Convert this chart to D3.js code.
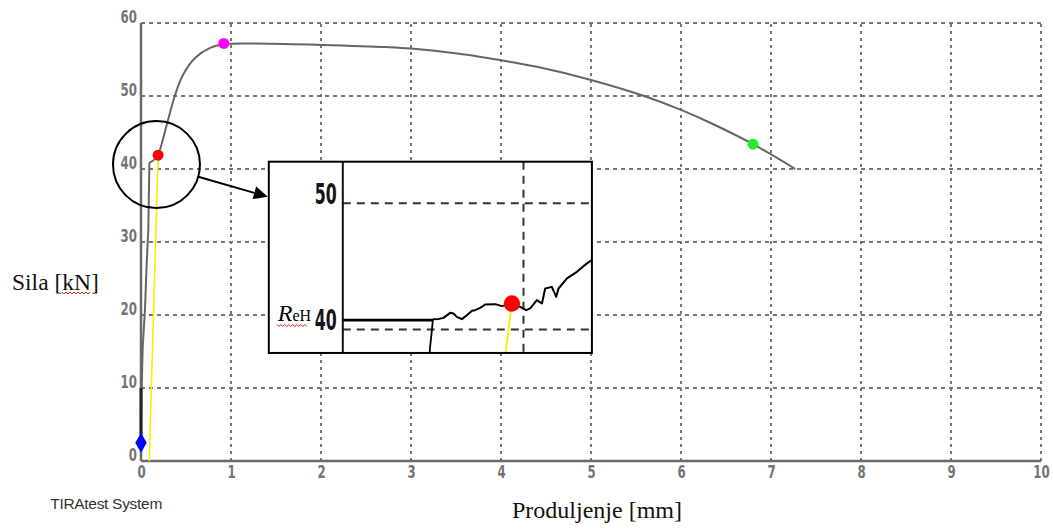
<!DOCTYPE html>
<html>
<head>
<meta charset="utf-8">
<script src="https://cdn.jsdelivr.net/npm/d3@7"></script>
<style>
  html, body { margin: 0; padding: 0; background: #fff; }
  svg { display: block; }
</style>
</head>
<body>
<svg id="chart" width="1053" height="529"></svg>
<script>
// ---------------- data ----------------
const xTickValues = [0, 1, 2, 3, 4, 5, 6, 7, 8, 9, 10];
const yTickValues = [0, 10, 20, 30, 40, 50, 60];

// main force–elongation curve (mm, kN)
const curveX = [0, 0.004, 0.008, 0.019, 0.044, 0.063, 0.081, 0.093, 0.10, 0.14, 0.19, 0.233, 0.30, 0.378, 0.467, 0.60, 0.767, 0.92, 1.27, 2.0, 2.73, 3.0, 3.6, 4.0, 4.4, 5.0, 5.59, 6.0, 6.33, 6.8, 7.27];
const curveY = [2.5, 10, 10, 15.6, 20.7, 27, 31.6, 40.8, 40.9, 41.2, 41.9, 43.6, 46.7, 50.1, 52.9, 55.2, 56.6, 57.1, 57.2, 57.0, 56.7, 56.5, 55.7, 54.9, 54.0, 52.2, 50.0, 48.1, 46.3, 43.4, 40.0];

// initial (black) segment along the axis
const startX = [0, 0];
const startY = [2.5, 10];

// yellow line
const yellowX = [0.092, 0.19];
const yellowY = [0, 41.9];

// markers
const markerX = [0, 0.19, 0.92, 6.8];
const markerY = [2.5, 41.9, 57.2, 43.4];
const markerColor = ["#0000ff", "#ff0000", "#ff00ff", "#22ee22"];
const markerShape = ["diamond", "octagon", "octagon", "octagon"];

// annotation circle (data coords of centre)
const circleCenter = [0.172, 40.6];
const arrowTipY = 36.2;

// inset frame in main data coordinates
const insetFrameX = [1.42, 5.01];
const insetFrameY = [14.8, 41.0];

// inset (zoom of the upper-yield region)
const insetXDomain = [0, 0.2757];
const insetYDomain = [38.14, 53.3];
const insetTicks = [40, 50];
const insetVLine = [0.2];
const insetCurveX = [0.0997, 0.1060, 0.1114, 0.1188, 0.1225, 0.1262, 0.1318, 0.1373, 0.1429, 0.1465, 0.1520, 0.1576, 0.1687, 0.1761, 0.1872, 0.1963, 0.2030, 0.2074, 0.2148, 0.2204, 0.2240, 0.2314, 0.2362, 0.2388, 0.2481, 0.2591, 0.2702, 0.2757];
const insetCurveY = [40.82, 40.84, 40.92, 41.32, 41.27, 41.0, 40.82, 41.13, 41.48, 41.53, 41.71, 41.98, 42.01, 41.85, 42.06, 41.79, 41.53, 41.67, 42.33, 42.06, 43.25, 43.38, 42.59, 43.25, 44.05, 44.57, 45.24, 45.5];
const insetElasticX = [0.0959, 0.0966, 0.0978, 0.0990, 0.0997];
const insetElasticY = [37.9, 38.6, 39.4, 40.2, 40.82];
const insetReHX = [0, 0.0997];
const insetReHY = [40.74, 40.74];
const insetYellowX = [0.1797, 0.1872];
const insetYellowY = [37.9, 42.06];
const insetMarker = [0.1872, 42.06];

// texts
const yTitle = "Sila [kN]";
const xTitle = "Produljenje [mm]";
const footer = "TIRAtest System";

// ---------------- drawing ----------------
const svg = d3.select("#chart");
const x = d3.scaleLinear().domain([0, 10]).range([141, 1041]);
const y = d3.scaleLinear().domain([0, 60]).range([461, 23]);

const tickFont = "'DejaVu Sans Condensed', 'Liberation Sans Narrow', 'Arial Narrow', sans-serif";
const gridColor = "#777";

// grid
const grid = svg.append("g");
grid.selectAll("line.h").data(yTickValues.filter(d => d > 0)).join("line")
  .attr("x1", x(0)).attr("x2", x(10))
  .attr("y1", d => y(d)).attr("y2", d => y(d))
  .attr("stroke", gridColor).attr("stroke-width", 2).attr("stroke-dasharray", "4,4");
grid.selectAll("line.v").data(xTickValues.filter(d => d > 0)).join("line")
  .attr("x1", d => x(d)).attr("x2", d => x(d))
  .attr("y1", y(0)).attr("y2", y(60))
  .attr("stroke", gridColor).attr("stroke-width", 2).attr("stroke-dasharray", "3,4");

// axes (solid)
svg.append("line").attr("x1", x(0)).attr("x2", x(0)).attr("y1", y(0)).attr("y2", y(60))
  .attr("stroke", "#6a6a6a").attr("stroke-width", 2.5);
svg.append("line").attr("x1", x(0)).attr("x2", x(10)).attr("y1", y(0)).attr("y2", y(0))
  .attr("stroke", "#6a6a6a").attr("stroke-width", 2.5);

// tick labels
const yAxis = d3.axisLeft(y).tickValues(yTickValues).tickSize(0).tickPadding(4);
const gy = svg.append("g").attr("transform", `translate(${x(0)},0)`).call(yAxis);
gy.select(".domain").remove();
gy.selectAll("text").attr("font-family", tickFont).attr("font-size", 17).attr("font-weight", "bold")
  .attr("fill", "#747474").attr("dy", "-0.05em")
  .attr("textLength", d => String(d).length * 8.2).attr("lengthAdjust", "spacingAndGlyphs");

const xAxis = d3.axisBottom(x).tickValues(xTickValues).tickSize(0).tickPadding(5);
const gx = svg.append("g").attr("transform", `translate(0,${y(0)})`).call(xAxis);
gx.select(".domain").remove();
gx.selectAll("text").attr("font-family", tickFont).attr("font-size", 17).attr("font-weight", "bold")
  .attr("fill", "#747474")
  .attr("textLength", d => String(d).length * 8.2).attr("lengthAdjust", "spacingAndGlyphs");

// main curve
const lineLin = d3.line().x(d => x(d[0])).y(d => y(d[1]));
const curvePts = curveX.map((v, i) => [v, curveY[i]]);
const splitIdx = 9;
svg.append("path").datum(curvePts.slice(0, splitIdx + 1)).attr("d", lineLin)
  .attr("fill", "none").attr("stroke", "#666").attr("stroke-width", 2);
svg.append("path").datum(curvePts.slice(splitIdx)).attr("d", d3.line().x(d => x(d[0])).y(d => y(d[1])).curve(d3.curveCatmullRom))
  .attr("fill", "none").attr("stroke", "#666").attr("stroke-width", 2);

svg.append("path").datum(startX.map((v, i) => [v, startY[i]])).attr("d", lineLin)
  .attr("fill", "none").attr("stroke", "#222").attr("stroke-width", 3);

svg.append("path").datum(yellowX.map((v, i) => [v, yellowY[i]])).attr("d", lineLin)
  .attr("fill", "none").attr("stroke", "#f5f000").attr("stroke-width", 1.6);

// markers
const octagon = d3.symbol().type(d3.symbolCircle).size(95);
const diamond = d3.symbol().type(d3.symbolDiamond).size(115);
svg.selectAll("path.marker").data(markerX.map((v, i) => ({x: v, y: markerY[i], c: markerColor[i], s: markerShape[i]})))
  .join("path").attr("class", "marker")
  .attr("transform", d => `translate(${x(d.x)},${y(d.y)})`)
  .attr("d", d => d.s === "diamond" ? diamond() : octagon())
  .attr("fill", d => d.c);

// annotation circle
const cx = x(circleCenter[0]), cy = y(circleCenter[1]), cr = 43.5;
svg.append("circle").attr("cx", cx).attr("cy", cy).attr("r", cr)
  .attr("fill", "none").attr("stroke", "#000").attr("stroke-width", 2);

// inset frame
const fx0 = x(insetFrameX[0]), fx1 = x(insetFrameX[1]);
const fy0 = y(insetFrameY[1]), fy1 = y(insetFrameY[0]);
const inset = svg.append("g");
inset.append("rect").attr("x", fx0).attr("y", fy0).attr("width", fx1 - fx0).attr("height", fy1 - fy0)
  .attr("fill", "#fff").attr("stroke", "none");

const axisPx = fx0 + 74;
const ix = d3.scaleLinear().domain(insetXDomain).range([axisPx, fx1]);
const iy = d3.scaleLinear().domain(insetYDomain).range([fy1, fy0]);

svg.append("clipPath").attr("id", "insetClip").append("rect")
  .attr("x", axisPx).attr("y", fy0).attr("width", fx1 - axisPx).attr("height", fy1 - fy0);

const inner = inset.append("g").attr("clip-path", "url(#insetClip)");
inner.selectAll("line.ih").data(insetTicks).join("line")
  .attr("x1", axisPx).attr("x2", fx1).attr("y1", d => iy(d)).attr("y2", d => iy(d))
  .attr("stroke", "#333").attr("stroke-width", 2).attr("stroke-dasharray", "8,6");
inner.selectAll("line.iv").data(insetVLine).join("line")
  .attr("x1", d => ix(d)).attr("x2", d => ix(d)).attr("y1", fy0).attr("y2", fy1)
  .attr("stroke", "#333").attr("stroke-width", 2).attr("stroke-dasharray", "8,6");

const iline = d3.line().x(d => ix(d[0])).y(d => iy(d[1]));
inner.append("path").datum(insetReHX.map((v, i) => [v, insetReHY[i]])).attr("d", iline)
  .attr("fill", "none").attr("stroke", "#000").attr("stroke-width", 2.8);
inner.append("path").datum(insetElasticX.map((v, i) => [v, insetElasticY[i]])).attr("d", iline)
  .attr("fill", "none").attr("stroke", "#000").attr("stroke-width", 1.8);
inner.append("path").datum(insetCurveX.map((v, i) => [v, insetCurveY[i]])).attr("d", iline)
  .attr("fill", "none").attr("stroke", "#000").attr("stroke-width", 2).attr("stroke-linejoin", "round");
inner.append("path").datum(insetYellowX.map((v, i) => [v, insetYellowY[i]])).attr("d", iline)
  .attr("fill", "none").attr("stroke", "#f5f000").attr("stroke-width", 1.8);
inner.append("path")
  .attr("transform", `translate(${ix(insetMarker[0])},${iy(insetMarker[1])})`)
  .attr("d", d3.symbol().type(d3.symbolCircle).size(210)())
  .attr("fill", "#ff0000");

// inset axis + border
inset.append("line").attr("x1", axisPx).attr("x2", axisPx).attr("y1", fy0).attr("y2", fy1)
  .attr("stroke", "#111").attr("stroke-width", 2);
inset.append("rect").attr("x", fx0).attr("y", fy0).attr("width", fx1 - fx0).attr("height", fy1 - fy0)
  .attr("fill", "none").attr("stroke", "#000").attr("stroke-width", 2);

// inset tick labels
inset.selectAll("text.it").data(insetTicks).join("text")
  .attr("x", axisPx - 6).attr("y", d => iy(d) + 1).attr("text-anchor", "end")
  .attr("font-family", tickFont).attr("font-size", 29).attr("font-weight", "bold").attr("fill", "#151515")
  .attr("textLength", 22).attr("lengthAdjust", "spacingAndGlyphs")
  .text(d => d);

// R_eH label
const reh = inset.append("text").attr("x", fx0 + 9).attr("y", iy(40) - 8)
  .attr("font-family", "'Liberation Serif', 'Times New Roman', serif").attr("fill", "#000");
reh.append("tspan").attr("font-style", "italic").attr("font-size", 24).text("R");
reh.append("tspan").attr("font-size", 16).text("eH");

// wavy spell-check underline helper
function squiggle(x0, x1, yb) {
  const p = d3.path();
  p.moveTo(x0, yb);
  let k = 0;
  for (let xx = x0 + 2; xx <= x1; xx += 2, k++) p.lineTo(xx, yb + (k % 2 === 0 ? 2 : 0));
  return p.toString();
}
inset.append("path").attr("d", squiggle(fx0 + 8, fx0 + 39, iy(40) - 5))
  .attr("fill", "none").attr("stroke", "#e02020").attr("stroke-width", 1);

// arrow from circle to inset
const tipX = fx0 - 1, tipY = y(arrowTipY);
const ang = Math.atan2(tipY - cy, tipX - cx);
const sx = cx + cr * Math.cos(ang), sy = cy + cr * Math.sin(ang);
const headLen = 14, headW = 6.5;
const bx = tipX - headLen * Math.cos(ang), by = tipY - headLen * Math.sin(ang);
svg.append("line").attr("x1", sx).attr("y1", sy).attr("x2", bx).attr("y2", by)
  .attr("stroke", "#000").attr("stroke-width", 2);
svg.append("path")
  .attr("d", `M${tipX},${tipY}L${bx - headW * Math.sin(ang)},${by + headW * Math.cos(ang)}L${bx + headW * Math.sin(ang)},${by - headW * Math.cos(ang)}Z`)
  .attr("fill", "#000");

// titles
svg.append("text").attr("x", 12).attr("y", 290)
  .attr("font-family", "'Liberation Serif', 'Times New Roman', serif").attr("font-size", 23.5)
  .attr("fill", "#111").text(yTitle);
svg.append("path").attr("d", squiggle(62, 90, 292))
  .attr("fill", "none").attr("stroke", "#e02020").attr("stroke-width", 1);

svg.append("text").attr("x", 597).attr("y", 518).attr("text-anchor", "middle")
  .attr("font-family", "'Liberation Serif', 'Times New Roman', serif").attr("font-size", 24)
  .attr("fill", "#111").text(xTitle);

svg.append("text").attr("x", 162).attr("y", 509).attr("text-anchor", "end")
  .attr("font-family", "'Liberation Sans', Arial, sans-serif").attr("font-size", 15.5)
  .attr("fill", "#333").attr("letter-spacing", "-0.3").text(footer);
</script>
</body>
</html>
